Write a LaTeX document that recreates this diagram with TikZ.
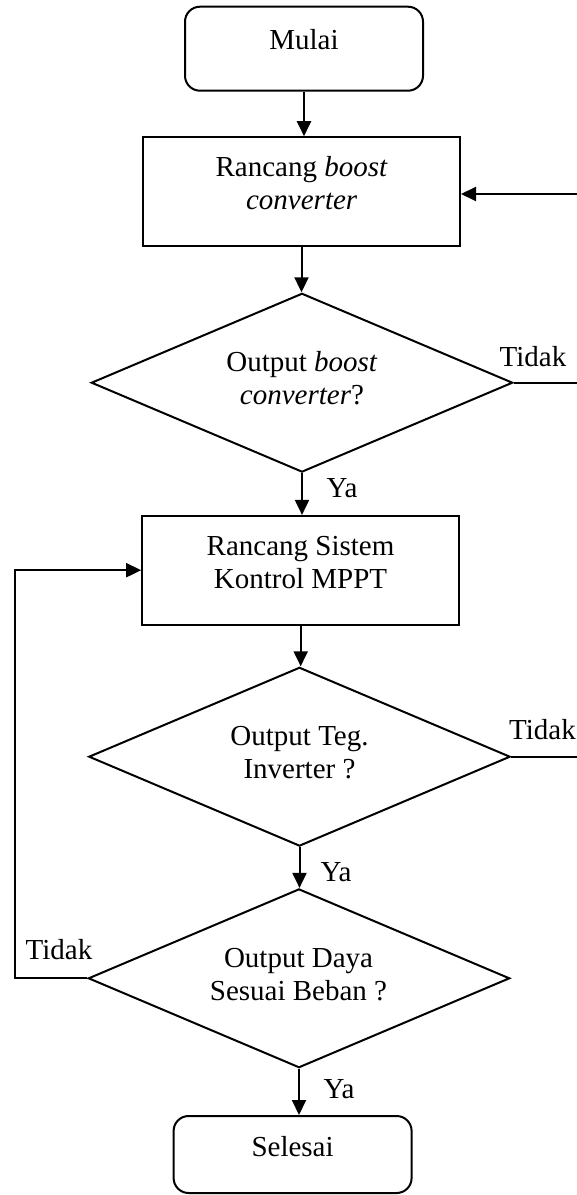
\documentclass[tikz,border=0pt]{standalone}
\usepackage{fontspec}
\setmainfont{Liberation Serif}
\usetikzlibrary{arrows.meta,shapes.geometric}
\begin{document}
\begin{tikzpicture}[x=0.5pt,y=-0.5pt,
  line width=1pt,
  >={Triangle[length=7.5pt,width=7pt]},
  txt/.style={font=\fontsize{14.5}{16.5}\selectfont, align=center, inner sep=0pt},
  term/.style={draw, rounded corners=7.5pt, minimum width=119pt, minimum height=42pt, inner sep=0pt},
  proc/.style={draw, minimum width=158.5pt, minimum height=54.3pt, inner sep=0pt},
  dec/.style={draw, diamond, minimum width=210.7pt, minimum height=89.4pt, inner sep=0pt},
  lab/.style={font=\fontsize{14.5}{16.5}\selectfont, inner sep=0pt}]
\useasboundingbox (0,0) rectangle (577,1195);
% shapes
\node[term] (mulai) at (304,48.7) {};
\node[txt] (tmulai) at (304,39.5) {Mulai};
\node[proc] (b1) at (301.5,191.5) {};
\node[txt] (tb1) at (301.7,183.3) {Rancang \textit{boost}\\\textit{converter}};
\node[dec] (d1) at (302,382.7) {};
\node[txt] (td1) at (302,378.3) {Output \textit{boost}\\\textit{converter}?};
\node[proc] (b2) at (300.7,570.2) {};
\node[txt] (tb2) at (300.5,562.7) {Rancang Sistem\\Kontrol MPPT};
\node[dec] (d2) at (299.5,756.7) {};
\node[txt] (td2) at (299.5,753) {Output Teg.\\Inverter ?};
\node[dec] (d3) at (299,978.3) {};
\node[txt] (td3) at (298.5,975) {Output Daya\\Sesuai Beban ?};
\node[term, minimum height=38.5pt] (sel) at (292.6,1154.5) {};
\node[txt] (tsel) at (292.6,1146.7) {Selesai};
% free ends
\coordinate (r0) at (577,194);
\coordinate (r1) at (577,382.7);
\coordinate (r2) at (577,756.7);
\coordinate (l1) at (14.7,978.3);
% connectors
\draw[->] (mulai.south) -- (mulai.south |- b1.north);
\draw[->] (b1.south) -- (b1.south |- d1.north);
\draw[->] (d1.south) -- (d1.south |- b2.north);
\draw[->] (b2.south) -- (b2.south |- d2.north);
\draw[->] (d2.south) -- (d2.south |- d3.north);
\draw[->] (d3.south) -- (d3.south |- sel.north);
\draw (d1.east) -- (r1);
\draw[->] (r0) -- (r0 -| b1.east);
\draw (d2.east) -- (r2);
\draw[->] (d3.west) -- (l1) |- (b2.west);
% labels
\node[lab] (n1) at (533,357) {Tidak};
\node[lab] (n2) at (542.5,730) {Tidak};
\node[lab] (n3) at (59,950) {Tidak};
\node[lab] (y1) at (342,488) {Ya};
\node[lab] (y2) at (336,871.7) {Ya};
\node[lab] (y3) at (339,1089) {Ya};
\end{tikzpicture}
\end{document}
